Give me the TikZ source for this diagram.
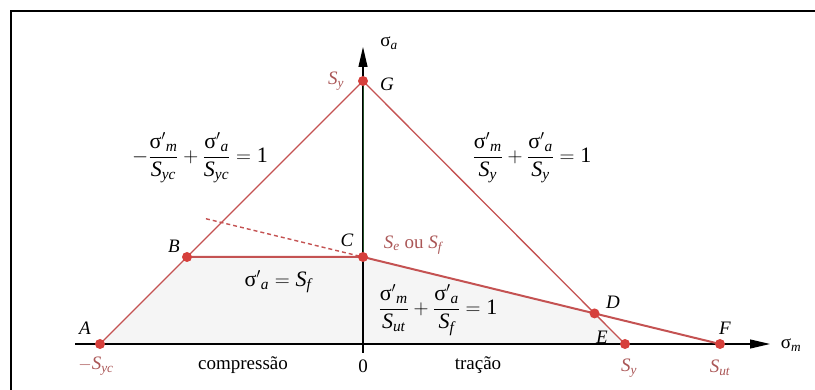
\documentclass[tikz,border=0pt]{standalone}
\usepackage{amsmath}
\usepackage{fontspec}
\setmainfont{Liberation Serif}
\usetikzlibrary{arrows.meta,calc}

\definecolor{linered}{RGB}{196,82,82}
\definecolor{dotred}{RGB}{214,64,60}
\definecolor{labred}{RGB}{170,86,86}
\definecolor{axisgreen}{RGB}{35,80,40}
\newcommand{\sg}{\text{σ}}
\newcommand{\vi}[1]{\textit{#1}}

\begin{document}
\begin{tikzpicture}[
    x=1pt, y=-1pt,
    font=\fontsize{19}{23}\selectfont,
    axis/.style={line width=1.1pt, -{Triangle[length=20pt,width=9pt]}},
    limit/.style={linered, line width=1.3pt},
    fatigue/.style={linered, line width=2pt},
    extension/.style={linered, line width=1.4pt, dash pattern=on 4pt off 3pt},
    dot/.style={circle, fill=dotred, inner sep=0pt, minimum size=10pt},
    strength/.style={text=labred},
    eqn/.style={inner sep=0pt, font=\fontsize{22}{26}\selectfont}
]
\useasboundingbox (0,0) rectangle (815,390);

% Frame
\draw[line width=1.8pt] (11,400) |- (830,11);

% Key points
\coordinate (pO) at (363,344);
\coordinate (pA) at (100,344);
\coordinate (pG) at (363,81);
\coordinate (pC) at (363,257);
\coordinate (pE) at (625,344);
\coordinate (pF) at (720,344);
\coordinate (pCleft) at (300,257);
\coordinate (pB) at (intersection of pA--pG and pC--pCleft);
\coordinate (pD) at (intersection of pG--pE and pC--pF);
\coordinate (dashEnd) at ($(pC)!-0.44!(pF)$);

% Safe region
\fill[black!4] (pA) -- (pB) -- (pC) -- (pD) -- (pE) -- cycle;

% Axes
\coordinate (mStart) at (75,344);
\coordinate (mEnd) at (770,344);
\coordinate (aStart) at (363,353);
\coordinate (aEnd) at (363,47);
\draw[axis] (mStart) -- (mEnd);
\draw[axis] (aStart) -- (aEnd);
\draw[axisgreen, line width=1pt] (pC) -- (pG);

% Limit lines
\draw[extension] (dashEnd) -- (pC);
\draw[limit] (pA) -- (pG) -- (pE);
\draw[fatigue] (pB) -- (pC) -- (pF);

% Points
\foreach \p in {pA,pB,pC,pD,pE,pF,pG}
  \node[dot] (\p dot) at (\p) {};

% Axis labels
\node (sigA) at (389,43) {σ$_{\vi{a}}$};
\node (sigM) at (791,345) {σ$_{\vi{m}}$};

% Point letters
\node (labG) at (387,84) {\vi{G}};
\node (labB) at (174,246) {\vi{B}};
\node (labC) at (347,240) {\vi{C}};
\node (labD) at (613,302) {\vi{D}};
\node (labE) at (602,337) {\vi{E}};
\node (labF) at (725,328) {\vi{F}};
\node (labA) at (85,328) {\vi{A}};

% Strength values
\node[strength] (valSyTop) at (336,81) {$\vi{S}_{\vi{y}}$};
\node[strength] (valSeSf) at (413,245) {$\vi{S}_{\vi{e}}$ ou $\vi{S}_{\vi{f}}$};
\node[strength] (valSyc) at (96,366) {$-\vi{S}_{\vi{yc}}$};
\node[strength] (valSy) at (629,368) {$\vi{S}_{\vi{y}}$};
\node[strength] (valSut) at (720,368) {$\vi{S}_{\vi{ut}}$};

% Bottom texts
\node (txtComp) at (243,365) {compressão};
\node (txtZero) at (363,366) {0};
\node (txtTrac) at (478,365) {tração};

% Equations
\node[eqn] (eqLeft) at (200,158) {$\displaystyle -\frac{{\sg'}_{\vi{m}}}{\vi{S}_{\vi{yc}}}+\frac{{\sg'}_{\vi{a}}}{\vi{S}_{\vi{yc}}}=\text{1}$};
\node[eqn] (eqRight) at (532,158) {$\displaystyle \frac{{\sg'}_{\vi{m}}}{\vi{S}_{\vi{y}}}+\frac{{\sg'}_{\vi{a}}}{\vi{S}_{\vi{y}}}=\text{1}$};
\node[eqn] (eqFlat) at (278,282) {${\sg'}_{\vi{a}}=\vi{S}_{\vi{f}}$};
\node[eqn] (eqGood) at (438,310) {$\displaystyle \frac{{\sg'}_{\vi{m}}}{\vi{S}_{\vi{ut}}}+\frac{{\sg'}_{\vi{a}}}{\vi{S}_{\vi{f}}}=\text{1}$};

\end{tikzpicture}
\end{document}
